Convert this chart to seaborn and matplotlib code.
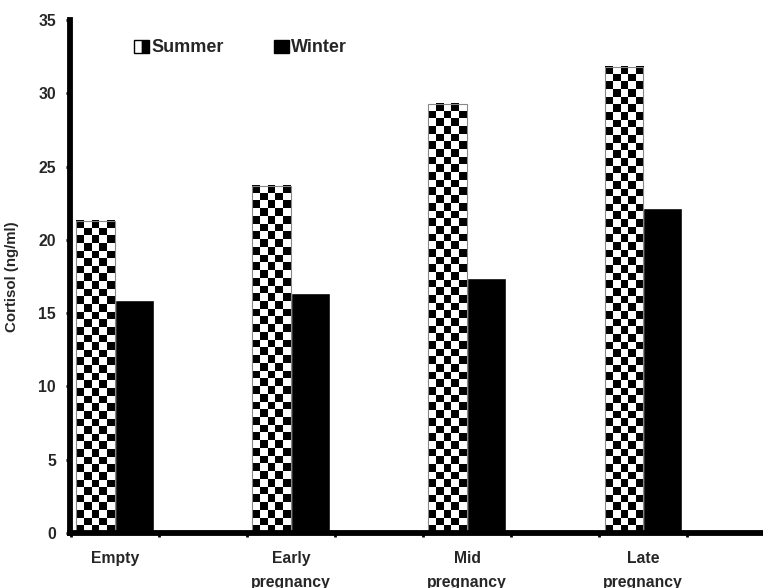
import numpy as np
import pandas as pd
import matplotlib
matplotlib.use("Agg")
import matplotlib.pyplot as plt
import seaborn as sns
from matplotlib.patches import Patch
from matplotlib.legend_handler import HandlerTuple

# data
stages = ["Empty", "Early\npregnancy", "Mid\npregnancy", "Late\npregnancy"]
summer = [21.3, 23.7, 29.3, 31.8]
winter = [15.9, 16.4, 17.4, 22.2]
seasons = ["Summer", "Winter"]

df = pd.DataFrame({
    "stage": stages * 2,
    "cortisol": summer + winter,
    "season": [seasons[0]] * len(stages) + [seasons[1]] * len(stages),
})

sns.set_style("white")
plt.rcParams["font.family"] = ["Liberation Sans", "DejaVu Sans"]
plt.rcParams["font.weight"] = "bold"

fig = plt.figure(figsize=(7.63, 5.88), dpi=100)
ax = fig.add_axes([70 / 763, 1 - 533 / 588, 1 - 70 / 763, (533 - 20) / 588])

sns.barplot(data=df, x="stage", y="cortisol", hue="season", order=stages,
            hue_order=seasons, palette=["white", "black"], width=0.44,
            saturation=1, legend=False, ax=ax, zorder=2)

ax.set_xlim(-0.256, 3.68)
ax.set_ylim(0, 35)
ax.set_yticks(np.arange(0, 36, 5))

# checkerboard fill for the summer bars
fig.canvas.draw()
for bar in ax.containers[0]:
    x0, w, h = bar.get_x(), bar.get_width(), bar.get_height()
    p0 = ax.transData.transform((x0, 0))
    p1 = ax.transData.transform((x0 + w, h))
    nx = max(1, int(round((p1[0] - p0[0]) / 8)))
    ny = max(1, int(round((p1[1] - p0[1]) / 7.7)))
    ii, jj = np.indices((ny, nx))
    board = ((ii + jj) % 2).astype(float)
    ax.imshow(board, extent=(x0, x0 + w, 0, h), cmap="gray", vmin=0, vmax=1,
              interpolation="nearest", aspect="auto", origin="lower", zorder=2.2)
    bar.set_facecolor("none")
    bar.set_edgecolor("#888888")
    bar.set_linewidth(0.8)
    bar.set_zorder(2.4)
ax.set_xlim(-0.256, 3.68)
ax.set_ylim(0, 35)

# spines
sns.despine(ax=ax)
for s in ["left", "bottom"]:
    ax.spines[s].set_linewidth(4.2)
    ax.spines[s].set_color("black")
    ax.spines[s].set_zorder(3)

ax.set_xticks(range(len(stages)))
ax.set_xticklabels(stages, fontsize=11.3, fontweight="bold", linespacing=1.75)
ax.set_xticks(np.arange(-0.25, 3.5, 0.5), minor=True)
ax.tick_params(axis="x", which="major", length=0, pad=13)
ax.tick_params(axis="x", which="minor", length=3, width=2, direction="out",
               color="black", bottom=True)
ax.tick_params(axis="y", which="major", length=3, width=2, direction="out",
               color="black", left=True, labelsize=11.3, pad=7)
for lab in ax.get_yticklabels():
    lab.set_fontweight("bold")

ax.set_xlabel("")
ax.set_ylabel("Cortisol (ng/ml)", fontsize=10.8, fontweight="bold")
ax.yaxis.set_label_coords((19 - 70) / (763 - 70), 0.5)

# legend
h_summer = (Patch(facecolor="white", edgecolor="black", linewidth=1),
            Patch(facecolor="black", edgecolor="black", linewidth=1))
h_winter = Patch(facecolor="black", edgecolor="black")
fig.legend([h_summer, h_winter], seasons, loc="center left",
           bbox_to_anchor=(125 / 763, 1 - 48 / 588), ncol=2, frameon=False,
           handler_map={tuple: HandlerTuple(ndivide=None, pad=0)},
           prop={"size": 13, "weight": "bold"}, handlelength=0.85,
           handleheight=0.7, handletextpad=0.1, columnspacing=2.8, borderpad=0)

fig.savefig("out.png", dpi=100)
